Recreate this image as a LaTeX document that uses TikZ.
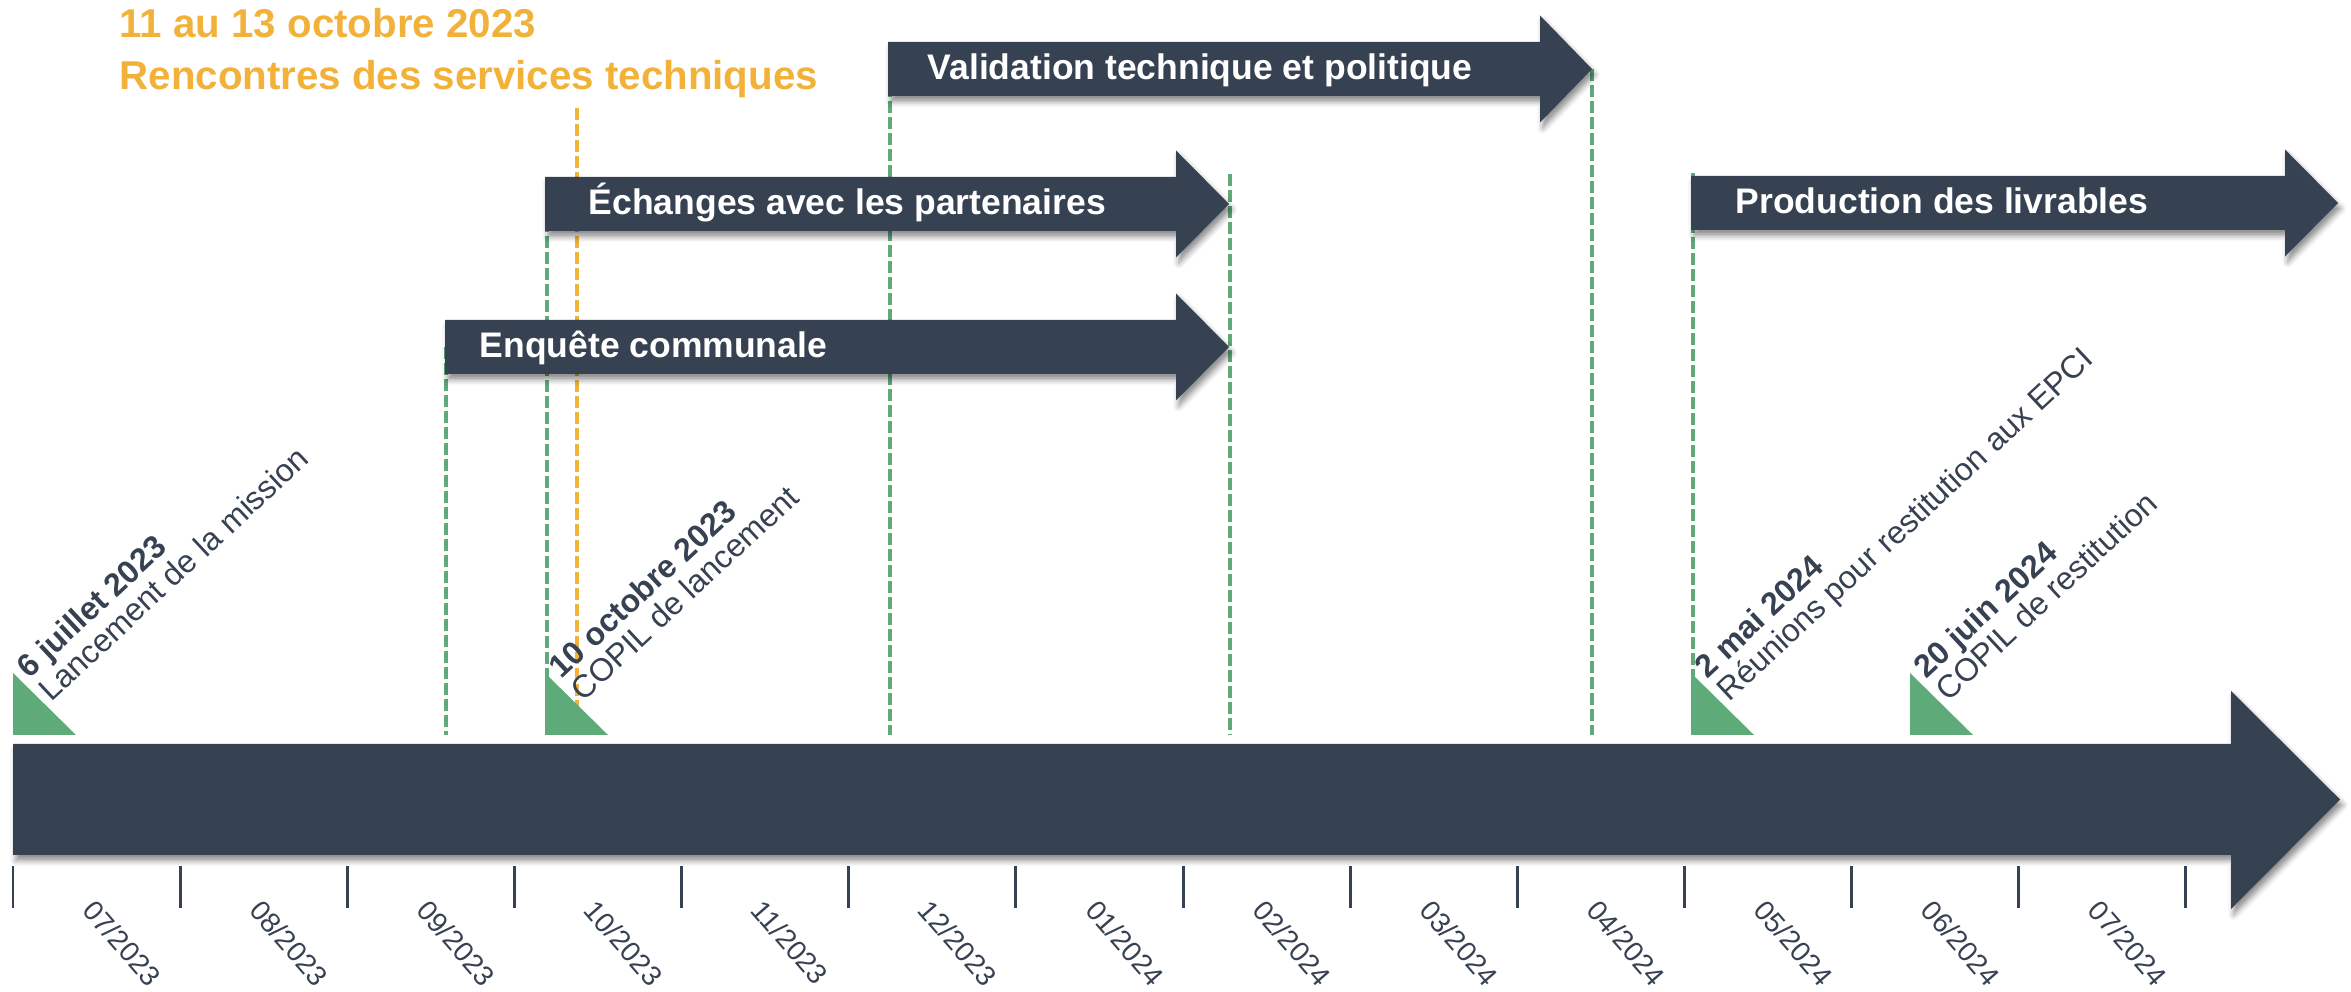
\documentclass[tikz,border=0pt]{standalone}
\usepackage{fontspec}
\setmainfont{Liberation Sans}
\usetikzlibrary{shadows.blur}
\definecolor{slate}{HTML}{364152}
\definecolor{mgreen}{HTML}{5EAA78}
\definecolor{morange}{HTML}{F2B23A}
\begin{document}
\begin{tikzpicture}[x=0.01cm,y=-0.01cm,
  bar/.style={fill=slate, blur shadow={shadow xshift=0.8pt, shadow yshift=-1.6pt, shadow blur radius=1.6pt, shadow opacity=45}},
  tasklabel/.style={anchor=base west, text=white, inner sep=0, font=\fontsize{10.1}{12}\selectfont\bfseries},
  titlelabel/.style={anchor=base west, text=morange, inner sep=0, font=\fontsize{11.45}{13}\selectfont\bfseries},
  guide/.style={draw=mgreen, line width=1pt, dash pattern=on 3.4pt off 1.15pt},
  guideorange/.style={draw=morange, line width=1pt, dash pattern=on 3.4pt off 1.15pt},
  milestone/.style={fill=mgreen},
  datelbl/.style={anchor=base west, rotate=43, inner sep=0, text=slate, font=\fontsize{9.1}{9.1}\selectfont\bfseries},
  desclbl/.style={anchor=base west, rotate=43, inner sep=0, text=slate, font=\fontsize{9.1}{9.1}\selectfont},
  ticklbl/.style={anchor=north west, rotate=-49, inner sep=0, text=slate, font=\fontsize{8}{8}\selectfont},
  tickmark/.style={draw=slate, line width=0.85pt}]
\useasboundingbox (0,0) rectangle (2351,992);

% guide lines (behind everything)
\draw[guide] (446,347) -- (446,735);
\draw[guide] (547,204) -- (547,735);
\draw[guideorange] (577,108) -- (577,735);
\draw[guide] (890,69) -- (890,735);
\draw[guide] (1230,174) -- (1230,735);
\draw[guide] (1592,69) -- (1592,735);
\draw[guide] (1693,173) -- (1693,735);

% title
\node[titlelabel] (t1) at (119,37.5) {11 au 13 octobre 2023};
\node[titlelabel] (t2) at (119,89.6) {Rencontres des services techniques};

% task arrows
\fill[bar] (888,42) -- (1540,42) -- (1540,15.5) -- (1592,69) -- (1540,122.5) -- (1540,96) -- (888,96) -- cycle;
\node[tasklabel] (validation) at (927,80) {Validation technique et politique};

\fill[bar] (545,177) -- (1176,177) -- (1176,150.5) -- (1229,204) -- (1176,257.5) -- (1176,231) -- (545,231) -- cycle;
\node[tasklabel] (echanges) at (588,215) {Échanges avec les partenaires};

\fill[bar] (445,320) -- (1176,320) -- (1176,293.5) -- (1229,347) -- (1176,400.5) -- (1176,374) -- (445,374) -- cycle;
\node[tasklabel] (enquete) at (479,358) {Enquête communale};

\fill[bar] (1691,176) -- (2285,176) -- (2285,149.5) -- (2338,203) -- (2285,256.5) -- (2285,230) -- (1691,230) -- cycle;
\node[tasklabel] (production) at (1735,214) {Production des livrables};

% main timeline arrow
\fill[bar] (13,744) -- (2231,744) -- (2231,691) -- (2340,799.5) -- (2231,909) -- (2231,855) -- (13,855) -- cycle;

% milestones
\fill[milestone] (13,673) -- (13,735) -- (76,735) -- cycle;
\fill[milestone] (545,673) -- (545,735) -- (608,735) -- cycle;
\fill[milestone] (1691,673) -- (1691,735) -- (1754,735) -- cycle;
\fill[milestone] (1910,673) -- (1910,735) -- (1973,735) -- cycle;

\node[datelbl] (m1d) at (29,680) {6 juillet 2023};
\node[desclbl] (m1t) at (51,703) {Lancement de la mission};
\node[datelbl] (m2d) at (561,680) {10 octobre 2023};
\node[desclbl] (m2t) at (583,703) {COPIL de lancement};
\node[datelbl] (m3d) at (1707,680) {2 mai 2024};
\node[desclbl] (m3t) at (1729,703) {Réunions pour restitution aux EPCI};
\node[datelbl] (m4d) at (1926,680) {20 juin 2024};
\node[desclbl] (m4t) at (1948,703) {COPIL de restitution};

% ticks and month labels
\foreach \i in {0,...,13}{
  \draw[tickmark] ({13+167.15*\i},866) -- ({13+167.15*\i},908);
}
\foreach \m [count=\i from 0] in {07/2023,08/2023,09/2023,10/2023,11/2023,12/2023,01/2024,02/2024,03/2024,04/2024,05/2024,06/2024,07/2024}{
  \node[ticklbl] (month\i) at ({13+167.15*(\i+0.5)},897) {\m};
}
\end{tikzpicture}
\end{document}
